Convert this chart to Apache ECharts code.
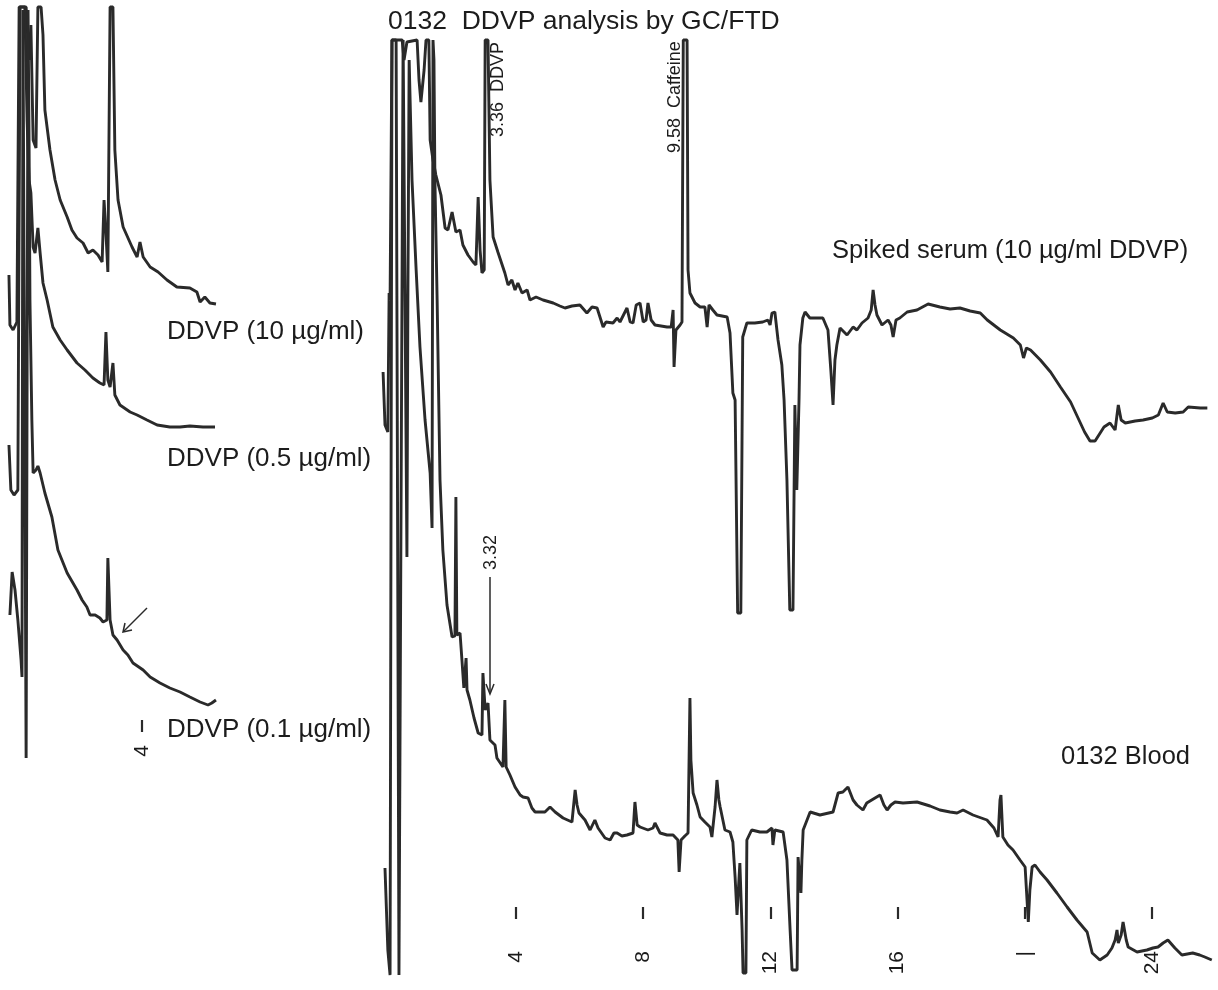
<!DOCTYPE html>
<html>
<head>
<meta charset="utf-8">
<title>0132 DDVP analysis by GC/FTD</title>
<script src="https://cdn.jsdelivr.net/npm/echarts@6/dist/echarts.min.js"></script>
<style>
html,body{margin:0;padding:0;background:#fff;}
#chart{width:1218px;height:990px;}
</style>
</head>
<body>
<div id="chart"></div>
<script>
//------------------ data: [time (min), detector response] ------------------
// left panel, standards
var ddvp10 = [[-0.19,25],[-0.16,-25],[-0.06,-30],[0.06,-22],[0.13,293],[0.35,293],[0.44,240],[0.50,275],[0.57,160],[0.66,152],[0.72,293],[0.82,293],[0.88,265],[0.94,190],[1.10,150],[1.26,120],[1.42,100],[1.64,83],[1.79,70],[1.95,62],[2.14,57],[2.30,47],[2.45,50],[2.61,45],[2.74,38],[2.80,100],[2.86,67],[2.92,28],[2.99,293],[3.08,293],[3.14,150],[3.24,100],[3.40,73],[3.68,53],[3.84,43],[3.93,58],[4.03,43],[4.25,33],[4.50,28],[4.78,20],[5.09,13],[5.50,12],[5.72,8],[5.82,-2],[5.97,3],[6.13,-3],[6.32,-4]];
var ddvp05 = [[-0.19,-15],[-0.13,-60],[-0.03,-65],[0.09,-60],[0.16,423],[0.31,423],[0.38,310],[0.44,250],[0.50,237],[0.57,183],[0.63,177],[0.72,202],[0.79,177],[0.88,147],[1.01,130],[1.19,103],[1.42,90],[1.64,80],[1.95,67],[2.20,60],[2.45,52],[2.67,47],[2.80,45],[2.86,98],[2.92,50],[2.99,43],[3.08,67],[3.14,35],[3.30,25],[3.62,18],[3.84,15],[4.15,10],[4.47,5],[4.87,3],[5.19,3],[5.50,4],[5.91,3],[6.29,3]];
var ddvp01 = [[-0.16,85],[-0.09,128],[0,110],[0.09,80],[0.19,40],[0.22,23],[0.25,690],[0.31,690],[0.35,-58],[0.38,-58],[0.41,690],[0.44,570],[0.47,400],[0.53,280],[0.57,227],[0.66,230],[0.72,234],[0.79,227],[0.85,225],[0.94,207],[1.16,183],[1.35,150],[1.64,127],[1.95,110],[2.11,100],[2.26,93],[2.36,85],[2.52,85],[2.67,82],[2.77,78],[2.89,80],[2.92,142],[2.99,80],[3.08,65],[3.21,60],[3.40,50],[3.55,45],[3.71,37],[4.03,30],[4.25,23],[4.56,17],[4.87,12],[5.19,8],[5.50,3],[5.82,-2],[6.07,-5],[6.19,-3],[6.32,0]];

// right panel, spiked serum
var spikedSerum = [[-0.18,28],[-0.12,-25],[-0.03,-32],[0.01,107],[0.04,100],[0.10,360],[0.42,360],[0.48,340],[0.57,358],[0.89,360],[0.95,320],[1.01,298],[1.11,330],[1.17,360],[1.26,360],[1.30,260],[1.39,240],[1.48,225],[1.64,205],[1.77,172],[1.86,170],[1.99,188],[2.11,168],[2.24,170],[2.33,155],[2.49,145],[2.65,138],[2.74,135],[2.81,203],[2.87,150],[2.93,127],[3.00,130],[3.03,360],[3.12,360],[3.18,220],[3.28,163],[3.43,148],[3.65,127],[3.75,115],[3.87,120],[3.97,110],[4.06,117],[4.19,107],[4.35,110],[4.44,100],[4.63,103],[4.85,100],[5.17,97],[5.38,94],[5.54,92],[5.76,94],[6.01,95],[6.23,87],[6.39,93],[6.55,92],[6.74,73],[6.83,78],[7.05,77],[7.18,82],[7.27,78],[7.49,92],[7.59,78],[7.68,77],[7.78,95],[7.90,97],[8.00,78],[8.09,80],[8.15,97],[8.25,80],[8.37,75],[8.75,73],[8.88,73],[8.94,90],[8.97,33],[9.03,70],[9.16,75],[9.22,78],[9.26,360],[9.38,360],[9.41,130],[9.47,107],[9.63,97],[9.79,93],[9.94,93],[10.01,73],[10.07,95],[10.19,90],[10.32,85],[10.64,83],[10.73,67],[10.82,7],[10.89,0],[10.97,-213],[11.07,-213],[11.13,63],[11.26,77],[11.51,77],[11.76,78],[11.92,80],[11.99,75],[12.05,87],[12.14,88],[12.24,60],[12.36,35],[12.43,0],[12.52,-80],[12.61,-210],[12.71,-210],[12.77,-5],[12.83,-90],[12.90,0],[12.93,55],[13.02,82],[13.09,88],[13.24,82],[13.65,82],[13.81,70],[13.90,30],[13.97,-5],[14.03,40],[14.09,55],[14.19,72],[14.41,65],[14.60,73],[14.72,70],[14.88,77],[15.07,82],[15.17,90],[15.23,110],[15.29,95],[15.35,85],[15.51,75],[15.70,80],[15.79,75],[15.86,63],[15.95,80],[16.07,82],[16.30,88],[16.61,90],[16.96,96],[17.33,93],[17.65,91],[17.96,92],[18.28,89],[18.60,87],[18.82,80],[19.23,70],[19.64,62],[19.86,55],[19.96,42],[20.05,52],[20.18,50],[20.49,40],[20.81,28],[21.12,13],[21.44,-2],[21.66,-17],[21.88,-32],[22.05,-41],[22.21,-41],[22.37,-33],[22.49,-27],[22.68,-23],[22.84,-30],[22.94,-5],[23.03,-20],[23.16,-23],[23.47,-21],[23.72,-20],[24.01,-18],[24.20,-15],[24.35,-3],[24.48,-12],[24.73,-13],[24.98,-12],[25.14,-7],[25.52,-8],[25.74,-8]];

// right panel, 0132 blood
var blood = [[-0.12,12],[-0.03,-70],[0.04,-95],[0.10,840],[0.23,840],[0.32,-95],[0.38,-95],[0.45,840],[0.51,840],[0.57,323],[0.60,580],[0.64,820],[0.73,700],[0.86,610],[0.98,533],[1.14,460],[1.30,407],[1.36,352],[1.39,840],[1.42,820],[1.45,700],[1.52,580],[1.61,400],[1.70,330],[1.83,275],[1.99,243],[2.08,244],[2.11,383],[2.14,245],[2.24,247],[2.30,220],[2.36,192],[2.43,222],[2.46,190],[2.55,180],[2.68,162],[2.81,147],[2.93,145],[2.96,207],[3.03,170],[3.09,168],[3.12,177],[3.18,140],[3.34,135],[3.40,122],[3.59,113],[3.62,113],[3.65,180],[3.69,113],[3.81,105],[3.97,93],[4.13,85],[4.22,83],[4.38,82],[4.50,72],[4.60,68],[4.91,68],[5.07,73],[5.23,68],[5.48,62],[5.76,58],[5.86,90],[5.92,75],[5.98,67],[6.17,60],[6.33,50],[6.39,50],[6.48,60],[6.58,52],[6.80,42],[6.96,40],[7.08,47],[7.18,47],[7.33,44],[7.49,45],[7.68,47],[7.74,78],[7.81,55],[7.90,53],[8.15,50],[8.31,52],[8.37,57],[8.53,47],[8.75,45],[8.94,45],[9.09,40],[9.13,8],[9.19,40],[9.31,44],[9.41,47],[9.47,182],[9.50,120],[9.57,87],[9.63,87],[9.69,75],[9.79,63],[9.94,58],[10.10,53],[10.16,43],[10.26,73],[10.32,100],[10.38,80],[10.42,73],[10.57,50],[10.73,48],[10.82,38],[10.89,3],[10.95,-35],[11.01,0],[11.04,17],[11.11,-50],[11.14,-93],[11.23,-93],[11.26,40],[11.41,50],[11.67,48],[11.89,48],[12.05,52],[12.08,35],[12.14,50],[12.40,48],[12.52,20],[12.62,-50],[12.68,-90],[12.84,-90],[12.87,23],[12.96,-13],[12.99,20],[13.03,50],[13.25,68],[13.56,65],[13.97,68],[14.13,87],[14.28,88],[14.44,93],[14.60,80],[14.72,75],[14.91,70],[15.03,77],[15.29,82],[15.45,85],[15.57,75],[15.67,70],[15.79,75],[15.92,78],[16.17,77],[16.61,78],[17.02,74],[17.33,70],[17.65,68],[17.87,67],[18.06,70],[18.37,65],[18.81,60],[19.03,52],[19.16,43],[19.22,80],[19.25,85],[19.31,43],[19.47,35],[19.63,30],[19.85,20],[20.01,13],[20.07,-20],[20.11,-42],[20.16,-10],[20.23,13],[20.32,15],[20.48,8],[20.70,0],[21.01,-13],[21.33,-27],[21.64,-40],[21.96,-52],[22.12,-73],[22.36,-80],[22.59,-75],[22.74,-68],[22.84,-60],[22.90,-50],[22.94,-63],[23.03,-55],[23.09,-42],[23.19,-60],[23.25,-67],[23.53,-72],[23.84,-70],[24.03,-68],[24.19,-67],[24.35,-63],[24.50,-60],[24.72,-68],[24.94,-75],[25.28,-73],[25.50,-75],[25.66,-77],[25.88,-80]];

// time marks
var rightTicks = [4, 8, 12, 16, 20, 24];
var rightTickText = ['4', '8', '12', '16', '|', '24'];
var leftTicks = [4];

//------------------ chart ------------------
var FONT = '"Liberation Sans", Arial, sans-serif';
var INK = '#2a2a2a';

var chart = echarts.init(document.getElementById('chart'));

var leftRect = {left: 2.28, right: 986.76, top: 5, bottom: 195};
var rightRect = {left: 379.26, right: 2.4, top: 36, bottom: 12};

function timeAxis(gi, min, max, ticks, labels, offset, margin) {
    var ax = {
        type: 'value', gridIndex: gi, min: min, max: max,
        axisLine: {show: false, onZero: false},
        splitLine: {show: false},
        axisTick: {show: false},
        axisLabel: {show: false}
    };
    if (ticks) {
        ax.offset = offset;
        ax.axisTick = {show: true, length: 12, customValues: ticks,
            lineStyle: {color: INK, width: 2.2}};
        ax.axisLabel = {show: true, customValues: ticks, rotate: 90, margin: margin,
            fontFamily: FONT, fontSize: 21, color: '#1a1a1a',
            formatter: function (v) {
                var i = ticks.indexOf(v);
                return labels ? labels[i] : String(v);
            }};
    }
    return ax;
}

function respAxis(gi, min, max) {
    return {type: 'value', gridIndex: gi, min: min, max: max, show: false,
        splitLine: {show: false}};
}

function trace(name, gi, data) {
    return {
        name: name, type: 'line', xAxisIndex: gi, yAxisIndex: gi,
        data: data, showSymbol: false, symbol: 'none', clip: false,
        lineStyle: {color: INK, width: 2.9},
        animation: false
    };
}

function text(x, y, s, size, rot) {
    return {
        type: 'text', x: x, y: y, rotation: rot || 0, silent: true,
        style: {text: s, fill: '#1c1c1c', fontFamily: FONT, fontSize: size,
            textAlign: 'left', align: 'left',
            textVerticalAlign: 'middle', verticalAlign: 'middle'}
    };
}

var option = {
    backgroundColor: '#fff',
    animation: false,
    grid: [
        echarts.util.extend({}, leftRect),
        echarts.util.extend({}, leftRect),
        echarts.util.extend({}, leftRect),
        echarts.util.extend({}, rightRect),
        echarts.util.extend({}, rightRect)
    ],
    xAxis: [
        timeAxis(0, -0.4, 6.8, leftTicks, null, -75, 25),
        timeAxis(1, -0.4, 6.8),
        timeAxis(2, -0.4, 6.8),
        timeAxis(3, -0.3, 26, rightTicks, rightTickText, -71, 44),
        timeAxis(4, -0.3, 26)
    ],
    yAxis: [
        respAxis(0, -495, 295),
        respAxis(1, -365, 425),
        respAxis(2, -95, 695),
        respAxis(3, -578, 364),
        respAxis(4, -98, 844)
    ],
    series: [
        trace('DDVP (10 µg/ml)', 0, ddvp10),
        trace('DDVP (0.5 µg/ml)', 1, ddvp05),
        trace('DDVP (0.1 µg/ml)', 2, ddvp01),
        trace('Spiked serum (10 µg/ml DDVP)', 3, spikedSerum),
        trace('0132 Blood', 4, blood)
    ],
    graphic: [
        text(388, 22, '0132  DDVP analysis by GC/FTD', 26.5),
        text(832, 251, 'Spiked serum (10 µg/ml DDVP)', 25.5),
        text(1061, 757, '0132 Blood', 25.5),
        text(167, 332, 'DDVP (10 µg/ml)', 26),
        text(167, 459, 'DDVP (0.5 µg/ml)', 26),
        text(167, 730, 'DDVP (0.1 µg/ml)', 26),
        // peak labels, rotated
        text(498, 137, '3.36  DDVP', 18, Math.PI / 2),
        text(675, 153, '9.58  Caffeine', 18, Math.PI / 2),
        text(491, 570, '3.32', 18, Math.PI / 2),
        // arrows
        {type: 'line', silent: true, shape: {x1: 490, y1: 577, x2: 490, y2: 692},
            style: {stroke: INK, lineWidth: 1.5}},
        {type: 'polyline', silent: true, shape: {points: [[486, 684], [490, 694], [494, 684]]},
            style: {stroke: INK, lineWidth: 1.5, fill: null}},
        {type: 'line', silent: true, shape: {x1: 147, y1: 608, x2: 124, y2: 631},
            style: {stroke: INK, lineWidth: 1.5}},
        {type: 'polyline', silent: true, shape: {points: [[125, 623], [123, 632], [132, 630]]},
            style: {stroke: INK, lineWidth: 1.5, fill: null}}
    ]
};

if (option && typeof option === "object") {
    chart.setOption(option, true);
}
</script>
</body>
</html>
